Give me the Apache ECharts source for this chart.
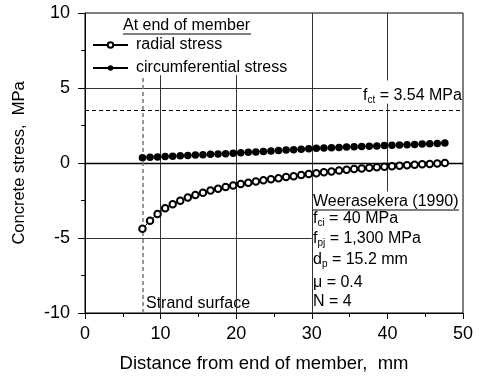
<!DOCTYPE html>
<html>
<head>
<meta charset="utf-8">
<script src="https://cdn.jsdelivr.net/npm/echarts@6/dist/echarts.min.js"></script>
<style>html,body{margin:0;padding:0;background:#fff}#c{width:481px;height:378px}</style>
</head>
<body>
<div id="c"></div>
<script>
// Distance from end of member (mm)
var distance = [7.6,8.6,9.6,10.6,11.6,12.6,13.6,14.6,15.6,16.6,17.6,18.6,19.6,20.6,21.6,22.6,23.6,24.6,25.6,26.6,27.6,28.6,29.6,30.6,31.6,32.6,33.6,34.6,35.6,36.6,37.6,38.6,39.6,40.6,41.6,42.6,43.6,44.6,45.6,46.6,47.6];
// Radial stress (MPa)
var radialStress = [-4.38,-3.85,-3.40,-3.02,-2.75,-2.52,-2.30,-2.13,-1.98,-1.84,-1.71,-1.60,-1.50,-1.40,-1.31,-1.23,-1.15,-1.08,-1.01,-0.94,-0.88,-0.80,-0.74,-0.68,-0.62,-0.56,-0.50,-0.45,-0.40,-0.36,-0.32,-0.28,-0.25,-0.21,-0.18,-0.15,-0.12,-0.09,-0.06,-0.03,0.00];
// Circumferential stress (MPa)
var circStress = [0.35,0.38,0.40,0.43,0.45,0.48,0.50,0.53,0.55,0.58,0.60,0.62,0.65,0.68,0.71,0.74,0.77,0.80,0.83,0.86,0.89,0.92,0.95,0.98,1.00,1.02,1.04,1.06,1.08,1.10,1.12,1.14,1.16,1.18,1.20,1.22,1.24,1.26,1.28,1.30,1.33];
var seriesNames = ['radial stress','circumferential stress'];
var xTicks = [0,10,20,30,40,50];
var yTicks = [-10,-5,0,5,10];
var fct = 3.54;
var strandSurface = 7.6;

var FONT = 'Liberation Sans, Arial, sans-serif';
function pairs(xs, ys){ return xs.map(function(x,i){ return [x, ys[i]]; }); }
function seg(x1,y1,x2,y2,style){ return [{coord:[x1,y1], lineStyle:style},{coord:[x2,y2]}]; }
var gridStyle = {color:'#333', width:1, type:'solid'};
var subRich = {s:{fontSize:10, fontFamily:FONT, padding:[9,0,0,0]}};

var chart = echarts.init(document.getElementById('c'), null, {renderer:'canvas'});
chart.setOption({
  animation:false,
  grid:{left:85, right:18, top:13, bottom:63, show:true, borderColor:'#000', borderWidth:1, backgroundColor:'transparent'},
  xAxis:{type:'value', min:xTicks[0], max:xTicks[xTicks.length-1], interval:10,
    name:'Distance from end of member,  mm', nameLocation:'middle', nameGap:41,
    nameTextStyle:{fontFamily:FONT, fontSize:18.5, color:'#000', padding:[0,20,0,0]},
    axisLine:{onZero:false, lineStyle:{color:'#000', width:1}},
    axisTick:{inside:false, length:6, lineStyle:{color:'#000'}},
    minorTick:{show:true, splitNumber:2, length:4, lineStyle:{color:'#000'}},
    axisLabel:{margin:12, fontFamily:FONT, fontSize:18, color:'#000'},
    splitLine:{show:false}},
  yAxis:{type:'value', min:yTicks[0], max:yTicks[yTicks.length-1], interval:5,
    name:'Concrete stress,  MPa', nameLocation:'middle', nameGap:57,
    nameTextStyle:{fontFamily:FONT, fontSize:16.5, color:'#000'},
    axisLine:{onZero:false, lineStyle:{color:'#000', width:1}},
    axisTick:{inside:false, length:7, lineStyle:{color:'#000'}},
    minorTick:{show:true, splitNumber:2, length:4, lineStyle:{color:'#000'}},
    axisLabel:{margin:15, fontFamily:FONT, fontSize:18, color:'#000'},
    splitLine:{show:false}},
  legend:{orient:'vertical', left:87, top:31, itemGap:5, itemWidth:35, itemHeight:7,
    data:seriesNames,
    textStyle:{fontFamily:FONT, fontSize:16, color:'#000', lineHeight:18, padding:[0,0,0,3]}},
  series:[
    {name:'gridlines', type:'line', data:[], silent:true,
      markLine:{silent:true, symbol:['none','none'], label:{show:false}, animation:false,
        emphasis:{disabled:true},
        data:[
          seg(0,5,36.6,5,gridStyle),
          seg(0,-5,30,-5,gridStyle),
          seg(10,-10,10,5.85,gridStyle),
          seg(20,-10,20,5.85,gridStyle),
          seg(30,-10,30,10,gridStyle),
          seg(40,10,40,5.5,gridStyle),
          seg(40,3.95,40,-1.9,gridStyle),
          seg(0,0,50,0,{color:'#000', width:1.4, type:'solid'}),
          seg(0,fct,50,fct,{color:'#000', width:1, type:[4,3]}),
          seg(strandSurface,-10,strandSurface,5.85,{color:'#777', width:1.5, type:[4,3]})
        ]}},
    {name:seriesNames[0], type:'line', data:pairs(distance, radialStress), symbol:'emptyCircle', symbolSize:6.5,
      lineStyle:{color:'#000', width:1}, itemStyle:{color:'#000', borderColor:'#000', borderWidth:1.2}, z:5},
    {name:seriesNames[1], type:'line', data:pairs(distance, circStress), symbol:'circle', symbolSize:7.5,
      lineStyle:{color:'#000', width:1}, itemStyle:{color:'#000'}, z:5}
  ],
  graphic:[
    {type:'text', left:123, top:18, style:{text:'At end of member', font:'16px '+FONT, fill:'#000'}},
    {type:'line', shape:{x1:123, y1:34, x2:251, y2:34}, style:{stroke:'#000', lineWidth:1}},
    {type:'text', left:363, top:88, style:{text:'f{s|ct} = 3.54 MPa', font:'16px '+FONT, fill:'#000', rich:subRich}},
    {type:'text', left:146, top:296, style:{text:'Strand surface', font:'16px '+FONT, fill:'#000'}},
    {type:'text', left:313, top:194, style:{text:'Weerasekera (1990)', font:'16px '+FONT, fill:'#000'}},
    {type:'line', shape:{x1:313, y1:210, x2:459, y2:210}, style:{stroke:'#000', lineWidth:1}},
    {type:'text', left:313, top:211, style:{text:'f{s|ci} = 40 MPa', font:'16px '+FONT, fill:'#000', rich:subRich}},
    {type:'text', left:313, top:231, style:{text:'f{s|pj} = 1,300 MPa', font:'16px '+FONT, fill:'#000', rich:subRich}},
    {type:'text', left:313, top:252, style:{text:'d{s|p} = 15.2 mm', font:'16px '+FONT, fill:'#000', rich:subRich}},
    {type:'text', left:313, top:275, style:{text:'\u03bc = 0.4', font:'16px '+FONT, fill:'#000'}},
    {type:'text', left:313, top:294, style:{text:'N = 4', font:'16px '+FONT, fill:'#000'}}
  ]
});
</script>
</body>
</html>
